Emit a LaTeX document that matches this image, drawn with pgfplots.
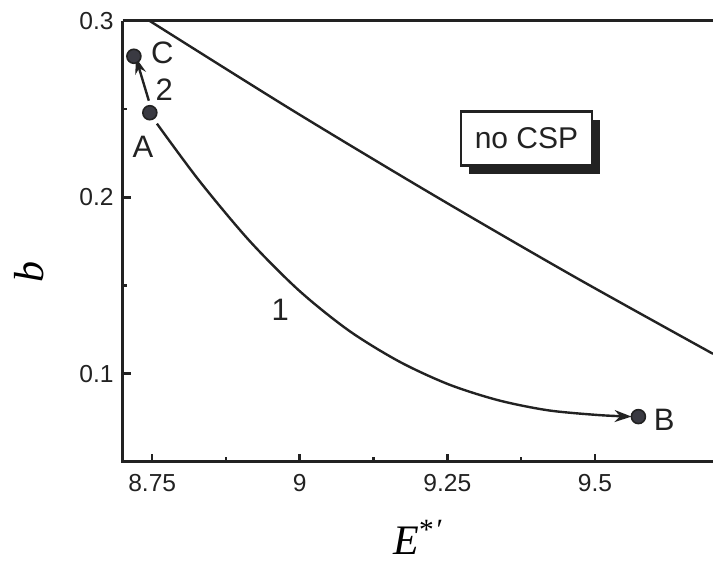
\documentclass[border=0pt]{standalone}
\usepackage{fontspec}
\setmainfont{Liberation Sans}
\newfontfamily\tnr{Liberation Serif}
\usepackage{pgfplots}
\pgfplotsset{compat=1.18}
\usetikzlibrary{arrows.meta,shadows}

\definecolor{ink}{HTML}{222222}
\definecolor{dot}{HTML}{3A3A42}

\begin{document}
\begin{tikzpicture}
\begin{axis}[
    name=ax,
    scale only axis,
    width=295.2pt, height=220.5pt,
    xmin=8.7, xmax=9.7,
    ymin=0.05, ymax=0.3,
    clip=false,
    axis line style={draw=none},
    tick align=inside,
    xtick pos=bottom, ytick pos=left,
    xtick={8.75,9,9.25,9.5},
    ytick={0.1,0.2,0.3},
    minor x tick num=1, minor y tick num=1,
    major tick length=4.2pt, minor tick length=2.4pt,
    tick style={line width=1.3pt, ink},
    tick label style={font=\fontsize{12.3}{14}\selectfont, text=ink},
    xticklabel style={yshift=-2.6pt},
    yticklabel style={xshift=-1pt},
    /pgf/number format/assume math mode=true,
    xlabel={\raisebox{0pt}[\height][0pt]{\tnr\itshape E\textsuperscript{\upshape *\kern0.5pt\itshape\char"2032}}},
    xlabel style={at={(axis description cs:0.5,0)}, anchor=base, yshift=-46.5pt,
        inner sep=0pt, font=\fontsize{21}{24}\selectfont},
    ylabel={\tnr\itshape b},
    ylabel style={at={(axis description cs:-0.159,0.431)}, anchor=center, rotate=0,
        font=\fontsize{21}{24}\selectfont},
]
% line bounding the CSP region
\addplot[ink, line width=1.2pt, smooth] coordinates {
(8.746,0.3)(8.9845,0.2500)(9.223,0.2020)(9.4615,0.1557)(9.7,0.1113)
};
% curve 1 from A to B
\addplot[ink, line width=1.2pt, smooth, -{Stealth[length=8.5pt,width=6pt]}] coordinates {
(8.758,0.2418)(8.830,0.2093)(8.915,0.1753)(8.999,0.1471)(9.083,0.1245)
(9.168,0.1070)(9.252,0.0940)(9.336,0.0850)(9.420,0.0793)(9.505,0.0766)(9.562,0.0757)
};
% curve 2 from A to C
\addplot[ink, line width=1.2pt, -{Stealth[length=8pt,width=5.5pt]}] coordinates {
(8.7443,0.2548)(8.7225,0.2791)
};
% points A, B, C
\addplot[only marks, mark=*, mark size=3.5pt, mark options={fill=dot, draw=ink, line width=0.8pt}] coordinates {
(8.746,0.248)(9.5736,0.0757)(8.719,0.280)
};

\node[font=\fontsize{15.5}{17}\selectfont, text=ink] at (axis cs:8.767,0.2819) {C};
\node[font=\fontsize{15.5}{17}\selectfont, text=ink] at (axis cs:8.7705,0.2613) {2};
\node[font=\fontsize{15.5}{17}\selectfont, text=ink] at (axis cs:8.7342,0.2285) {A};
\node[font=\fontsize{15.5}{17}\selectfont, text=ink] at (axis cs:9.6174,0.0737) {B};
\node[font=\fontsize{15.5}{17}\selectfont, text=ink] at (axis cs:8.967,0.1362) {1};

\node[draw=ink, line width=1.4pt, fill=white, minimum width=65.5pt, minimum height=27pt,
      inner sep=0pt, font=\fontsize{15}{17}\selectfont, text=ink,
      drop shadow={shadow xshift=3.8pt, shadow yshift=-4pt, fill=ink, opacity=1}]
      at (axis cs:9.384,0.2333) {no CSP};

% axis frame: left, bottom and top sides
\draw[ink, line width=1.5pt] (rel axis cs:0,1) -- (rel axis cs:0,0) -- (rel axis cs:1,0);
\draw[ink, line width=1.5pt] (rel axis cs:0,1) -- (rel axis cs:1,1);
\end{axis}
\pgfresetboundingbox
\path ([shift={(-61.35pt,-49.5pt)}]ax.south west) rectangle ([shift={(0pt,10.5pt)}]ax.north east);
\end{tikzpicture}
\end{document}
